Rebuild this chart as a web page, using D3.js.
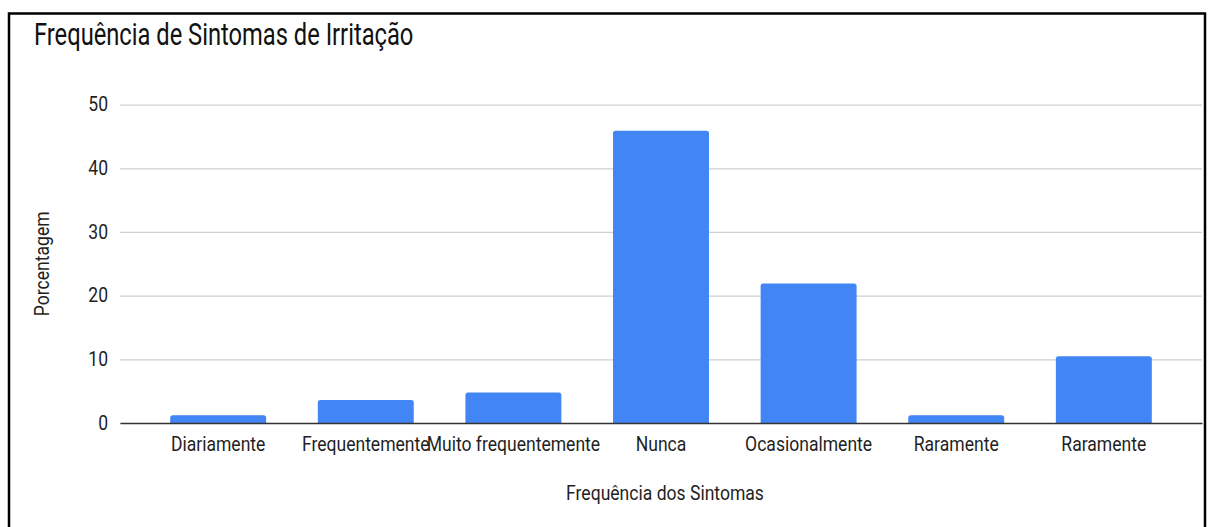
<!DOCTYPE html>
<html>
<head>
<meta charset="utf-8">
<script src="https://cdn.jsdelivr.net/npm/d3@7"></script>
<style>
  html, body { margin: 0; padding: 0; background: #fff; }
  svg { display: block; font-family: Roboto, "Noto Sans", sans-serif; }
</style>
</head>
<body>
<svg id="chart" width="1213" height="527"></svg>
<script>
const categories = ["Diariamente", "Frequentemente", "Muito frequentemente", "Nunca", "Ocasionalmente", "Raramente", "Raramente "];
const values = [1.2, 3.6, 4.8, 45.9, 21.9, 1.2, 10.5];
const yTicks = [0, 10, 20, 30, 40, 50];
const title = "Frequência de Sintomas de Irritação";
const xTitle = "Frequência dos Sintomas";
const yTitle = "Porcentagem";

const W = 1213, H = 527;
const margin = { left: 120, right: 11, top: 104.6, bottom: 104 };
const svg = d3.select("#chart");

svg.append("rect").attr("width", W).attr("height", H).attr("fill", "#fff");

// frame
svg.append("rect")
  .attr("x", 9).attr("y", 13.5).attr("width", 1196).attr("height", 530)
  .attr("fill", "none").attr("stroke", "#000").attr("stroke-width", 2.5);

const x = d3.scaleBand()
  .domain(categories)
  .range([margin.left, W - margin.right])
  .paddingInner(0.35)
  .paddingOuter(0.34);

const y = d3.scaleLinear().domain([0, 50]).range([H - margin.bottom, margin.top]);

const SX = 0.9; // narrow look of the text
const FS = 19.5;

// grid
const grid = svg.append("g")
  .attr("transform", `translate(${margin.left},0)`)
  .call(d3.axisLeft(y).tickValues(yTicks).tickSize(-(W - margin.left - margin.right)).tickFormat(""));
grid.select(".domain").remove();
grid.selectAll("line").attr("stroke", "#cfcfcf").attr("stroke-width", 1.2);

// y tick labels
const yAxis = svg.append("g")
  .attr("transform", `translate(${margin.left},0)`)
  .call(d3.axisLeft(y).tickValues(yTicks).tickSize(0).tickPadding(0).tickFormat(d => d));
yAxis.select(".domain").remove();
yAxis.selectAll("text")
  .attr("x", null)
  .attr("transform", `translate(-12,0) scale(${SX},1)`)
  .attr("font-size", FS).attr("fill", "#1f1f1f").attr("font-family", "Roboto");

// bars
const r = 2.5;
svg.append("g").selectAll("path")
  .data(categories.map((c, i) => ({ c, v: values[i] })))
  .join("path")
  .attr("fill", "#4285f4")
  .attr("d", d => {
    const x0 = x(d.c), x1 = x0 + x.bandwidth(), y0 = y(0), y1 = y(d.v);
    const rr = Math.min(r, (y0 - y1) / 2);
    return `M${x0},${y0}V${y1 + rr}Q${x0},${y1} ${x0 + rr},${y1}H${x1 - rr}Q${x1},${y1} ${x1},${y1 + rr}V${y0}Z`;
  });

// baseline axis
const xAxis = svg.append("g")
  .attr("transform", `translate(0,${y(0)})`)
  .call(d3.axisBottom(x).tickSize(0).tickPadding(14).tickFormat(d => d.trim()));
xAxis.select(".domain").attr("stroke", "#333").attr("stroke-width", 1.6);
xAxis.selectAll("text")
  .attr("transform", `scale(${SX},1)`)
  .attr("font-size", FS).attr("fill", "#1f1f1f").attr("font-family", "Roboto");

// titles
svg.append("text")
  .attr("transform", `translate(34,45) scale(0.765,1)`)
  .attr("font-size", 31).attr("fill", "#111")
  .text(title);

svg.append("text")
  .attr("transform", `translate(${(margin.left + W - margin.right) / 2 + 4},500) scale(${SX},1)`)
  .attr("text-anchor", "middle")
  .attr("font-size", FS).attr("fill", "#1f1f1f")
  .text(xTitle);

svg.append("text")
  .attr("transform", `translate(49,${(y(0) + y(50)) / 2}) rotate(-90) scale(${SX},1)`)
  .attr("text-anchor", "middle")
  .attr("font-size", FS).attr("fill", "#1f1f1f")
  .text(yTitle);
</script>
</body>
</html>
